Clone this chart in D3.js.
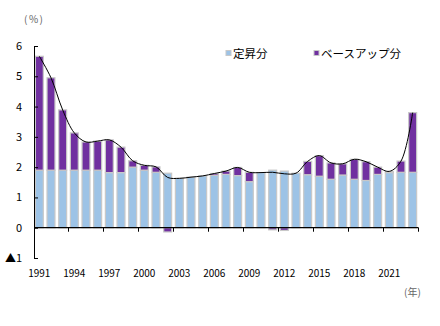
<!DOCTYPE html>
<html>
<head>
<meta charset="utf-8">
<script src="https://cdn.jsdelivr.net/npm/d3@7"></script>
<style>
  body { margin: 0; background: #fff; }
  svg text { font-family: "Noto Sans CJK JP", "Noto Sans", sans-serif; }
</style>
</head>
<body>
<div id="chart"></div>
<script>
// 春闘賃上げ率の内訳（定昇分＋ベースアップ分）
var years = d3.range(1991, 2024);
var teisho = [1.9, 1.9, 1.9, 1.9, 1.9, 1.9, 1.82, 1.82, 2.0, 1.9, 1.83,
              1.8, 1.63, 1.67, 1.71, 1.73, 1.76, 1.72, 1.52, 1.82, 1.9,
              1.87, 1.8, 1.75, 1.7, 1.6, 1.74, 1.6, 1.56, 1.76, 1.82,
              1.83, 1.83];
var baseup = [3.76, 3.05, 1.99, 1.23, 0.93, 0.96, 1.08, 0.84, 0.21, 0.16, 0.18,
              -0.14, 0, 0, 0, 0.06, 0.11, 0.27, 0.31, 0, -0.07,
              -0.09, 0, 0.44, 0.68, 0.54, 0.37, 0.66, 0.62, 0.24, 0.04,
              0.37, 1.97];
var yTicks = [-1, 0, 1, 2, 3, 4, 5, 6];
var xLabels = [1991, 1994, 1997, 2000, 2003, 2006, 2009, 2012, 2015, 2018, 2021];
var seriesNames = ["定昇分", "ベースアップ分"];
var colors = ["#9dc3e6", "#7030a0"];

var width = 440, height = 326;
var svg = d3.select("#chart").append("svg")
    .attr("width", width)
    .attr("height", height);

var x = d3.scaleBand().domain(years).range([33.5, 418.5]);
var y = d3.scaleLinear().domain([-1, 6]).range([258, 46]);
var bw = x.bandwidth() * 0.68;

var rows = years.map(function(yr, i) {
  return { year: yr, teisho: teisho[i], baseup: baseup[i], total: teisho[i] + baseup[i] };
});

// bars
var g = svg.append("g");
rows.forEach(function(d) {
  var cx = x(d.year) + x.bandwidth() / 2;
  g.append("rect")
    .attr("x", cx - bw / 2)
    .attr("y", y(d.teisho))
    .attr("width", bw)
    .attr("height", y(0) - y(d.teisho))
    .attr("fill", colors[0])
    .attr("stroke", "#c8c8c8")
    .attr("stroke-width", 1.2);
  if (d.baseup != 0) {
    var y0 = d.baseup > 0 ? d.teisho : 0;
    var y1 = d.baseup > 0 ? d.teisho + d.baseup : d.baseup;
    g.append("rect")
      .attr("x", cx - bw / 2)
      .attr("y", y(Math.max(y0, y1)))
      .attr("width", bw)
      .attr("height", Math.abs(y(y0) - y(y1)))
      .attr("fill", colors[1])
      .attr("stroke", "#c8c8c8")
      .attr("stroke-width", 1.2);
  }
});

// total line
var line = d3.line()
  .x(function(d) { return x(d.year) + x.bandwidth() / 2; })
  .y(function(d) { return y(d.total); })
  .curve(d3.curveCatmullRom.alpha(0.5));
svg.append("path")
  .datum(rows)
  .attr("d", line)
  .attr("fill", "none")
  .attr("stroke", "#000")
  .attr("stroke-width", 1);

// y axis
var yAxis = d3.axisLeft(y)
  .tickValues(yTicks)
  .tickSizeInner(-4)
  .tickSizeOuter(0)
  .tickPadding(12)
  .tickFormat(function(v) { return v < 0 ? "▲" + Math.abs(v) : v; });
var ya = svg.append("g").attr("transform", "translate(34,0)").call(yAxis);
ya.selectAll("path, line").attr("stroke", "#000");
ya.selectAll("text").attr("font-size", 11).attr("fill", "#000")
  .style("font-family", "'Noto Sans CJK JP', sans-serif");

// zero line and x ticks every 3 years
svg.append("line")
  .attr("x1", 34).attr("x2", x.range()[1])
  .attr("y1", y(0)).attr("y2", y(0))
  .attr("stroke", "#000").attr("stroke-width", 1.2);
var tickPos = d3.range(3, years.length + 1, 3).map(function(i) {
  return i < years.length ? x(years[i]) : x.range()[1];
});
svg.selectAll(".xt").data(tickPos).enter().append("line")
  .attr("x1", function(d) { return d; }).attr("x2", function(d) { return d; })
  .attr("y1", y(0)).attr("y2", y(0) + 4)
  .attr("stroke", "#000");

// x labels
svg.selectAll(".xl").data(xLabels).enter().append("text")
  .attr("x", function(d) { return x(d) + x.bandwidth() / 2; })
  .attr("y", 277)
  .attr("text-anchor", "middle")
  .attr("font-size", 10)
  .attr("fill", "#000")
  .text(function(d) { return d; });

// units
svg.append("text").attr("x", 24).attr("y", 23)
  .attr("font-size", 10).attr("letter-spacing", 1.5).attr("fill", "#666").text("(%)");
svg.append("text").attr("x", 404).attr("y", 296)
  .attr("font-size", 10).attr("fill", "#666").text("(年)");

// legend
var legX = [226, 314];
seriesNames.forEach(function(name, i) {
  svg.append("rect")
    .attr("x", legX[i]).attr("y", 50.5)
    .attr("width", 5).attr("height", 5)
    .attr("fill", colors[i])
    .attr("stroke", "#c8c8c8").attr("stroke-width", 1);
  svg.append("text")
    .attr("x", legX[i] + 7).attr("y", 57.5)
    .attr("font-size", 11.5).attr("fill", "#000")
    .text(name);
});
</script>
</body>
</html>
